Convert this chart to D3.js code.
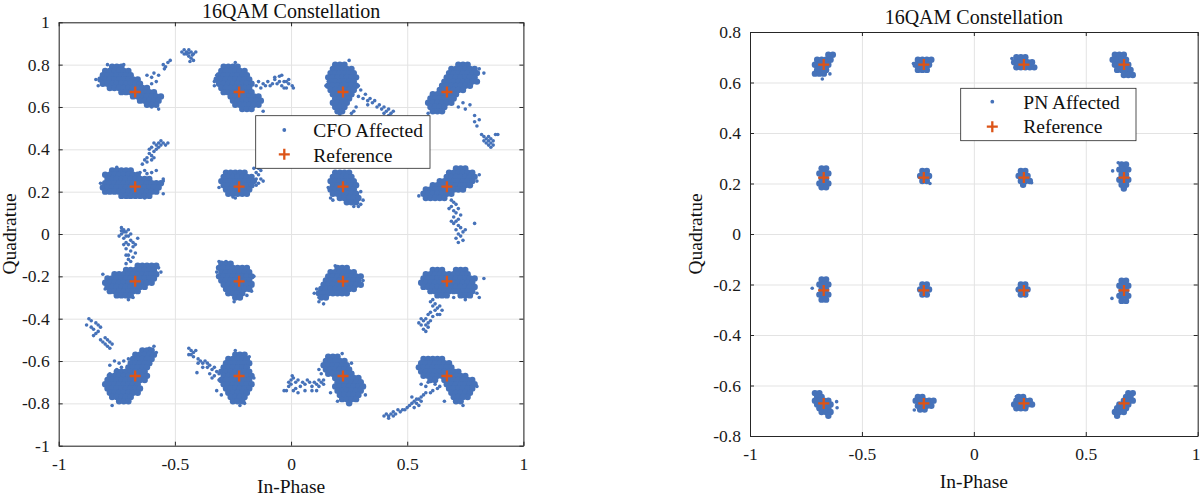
<!DOCTYPE html>
<html><head><meta charset="utf-8">
<script src="https://cdn.jsdelivr.net/npm/d3@7/dist/d3.min.js"></script>
<style>body{margin:0;background:#fff}svg{display:block}svg text{font-family:"Liberation Serif","Times New Roman",serif}</style>
</head><body><svg id="c" width="1200" height="495"></svg>
<script>
// ---------------- data ----------------
const refLevels=[-0.6708,-0.2236,0.2236,0.6708];
const xTicks=[-1,-0.5,0,0.5,1];
const xTickLabels=['-1','-0.5','0','0.5','1'];
const yTicksL=[-1,-0.8,-0.6,-0.4,-0.2,0,0.2,0.4,0.6,0.8,1];
const yTickLabelsL=['-1','-0.8','-0.6','-0.4','-0.2','0','0.2','0.4','0.6','0.8','1'];
const yTicksR=[-0.8,-0.6,-0.4,-0.2,0,0.2,0.4,0.6,0.8];
const yTickLabelsR=['-0.8','-0.6','-0.4','-0.2','0','0.2','0.4','0.6','0.8'];
const titles=['16QAM Constellation','16QAM Constellation'];
const xLabel='In-Phase', yLabel='Quadratue';
const legendL=['CFO Affected','Reference'];
const legendR=['PN Affected','Reference'];

// CFO affected: dense parts, each row = [Q, I, I, ...]
const cfoRows=[
[.79,-.77,-.75,-.73],[.77,-.80,-.78,-.76,-.74,-.72,-.70],[.75,-.81,-.79,-.77,-.75,-.73,-.71,-.69],
[.73,-.82,-.80,-.78,-.76,-.74,-.72,-.70,-.68,-.66],[.71,-.81,-.79,-.77,-.75,-.73,-.71,-.69,-.67,-.65],
[.69,-.78,-.76,-.74,-.72,-.70,-.68,-.66,-.64,-.62],[.67,-.73,-.71,-.69,-.67,-.65,-.63,-.61,-.59],
[.65,-.68,-.66,-.64,-.62,-.60,-.58,-.56],[.63,-.65,-.63,-.61,-.59,-.57],[.61,-.62,-.60,-.58],
[.79,-.29,-.27,-.25,-.23],[.77,-.30,-.28,-.26,-.24,-.22,-.20],[.75,-.31,-.29,-.27,-.25,-.23,-.21,-.19],
[.73,-.32,-.30,-.28,-.26,-.24,-.22,-.20,-.18],[.71,-.31,-.29,-.27,-.25,-.23,-.21,-.19,-.17],
[.69,-.30,-.28,-.26,-.24,-.22,-.20,-.18],[.67,-.29,-.27,-.25,-.23,-.21,-.19,-.17],
[.65,-.26,-.24,-.22,-.20,-.18,-.16,-.14],[.63,-.25,-.23,-.21,-.19,-.17,-.15,-.13],
[.61,-.24,-.22,-.20,-.18,-.16,-.14],[.59,-.21,-.19,-.17],
[.80,.19,.21,.23],[.78,.18,.20,.22,.24,.26],[.76,.17,.19,.21,.23,.25,.27],[.74,.16,.18,.20,.22,.24,.26,.28],
[.72,.17,.19,.21,.23,.25,.27],[.70,.16,.18,.20,.22,.24,.26,.28],[.68,.17,.19,.21,.23,.25,.27],
[.66,.18,.20,.22,.24,.26],[.64,.19,.21,.23,.25],[.62,.18,.20,.22,.24],[.60,.19,.21,.23],[.58,.20,.22],
[.80,.72,.74,.76],[.78,.69,.71,.73,.75,.77,.79],[.76,.68,.70,.72,.74,.76,.78,.80],
[.74,.67,.69,.71,.73,.75,.77,.79],[.72,.66,.68,.70,.72,.74,.76,.78,.80],[.70,.65,.67,.69,.71,.73,.75,.77],
[.68,.64,.66,.68,.70,.72,.74],[.66,.61,.63,.65,.67,.69,.71],[.64,.60,.62,.64,.66,.68,.70],
[.62,.59,.61,.63,.65,.67,.69],[.60,.60,.62,.64,.66],[.58,.61,.63,.65],
[.30,-.77,-.75,-.73,-.71,-.69],[.28,-.80,-.78,-.76,-.74,-.72,-.70,-.68,-.66],
[.26,-.79,-.77,-.75,-.73,-.71,-.69,-.67,-.65,-.63,-.61],
[.24,-.80,-.78,-.76,-.74,-.72,-.70,-.68,-.66,-.64,-.62,-.60,-.58,-.56],
[.22,-.81,-.79,-.77,-.75,-.73,-.71,-.69,-.67,-.65,-.63,-.61,-.59,-.57],
[.20,-.80,-.78,-.76,-.74,-.72,-.70,-.68,-.66,-.64,-.62,-.60,-.58],[.18,-.73,-.71,-.69,-.67,-.65,-.63,-.61],
[.29,-.28,-.26,-.24,-.22,-.20],[.27,-.29,-.27,-.25,-.23,-.21,-.19,-.17],
[.25,-.30,-.28,-.26,-.24,-.22,-.20,-.18,-.16],[.23,-.29,-.27,-.25,-.23,-.21,-.19,-.17],
[.21,-.28,-.26,-.24,-.22,-.20,-.18],[.19,-.27,-.25,-.23,-.21,-.19],
[.29,.19,.21,.23,.25],[.27,.18,.20,.22,.24,.26],[.25,.17,.19,.21,.23,.25,.27],[.23,.18,.20,.22,.24,.26,.28],
[.21,.17,.19,.21,.23,.25,.27],[.19,.18,.20,.22,.24,.26,.28],[.17,.21,.23,.25,.27,.29],[.15,.24,.26,.28],
[.31,.71,.73,.75],[.29,.68,.70,.72,.74,.76,.78],[.27,.67,.69,.71,.73,.75,.77,.79],
[.25,.64,.66,.68,.70,.72,.74,.76,.78],[.23,.61,.63,.65,.67,.69,.71,.73,.75,.77],
[.21,.58,.60,.62,.64,.66,.68,.70,.72,.74],[.19,.57,.59,.61,.63,.65,.67,.69],[.17,.58,.60,.62,.64,.66],
[-.15,-.66,-.64,-.62,-.60,-.58],[-.17,-.71,-.69,-.67,-.65,-.63,-.61,-.59],
[-.19,-.76,-.74,-.72,-.70,-.68,-.66,-.64,-.62,-.60,-.58],
[-.21,-.79,-.77,-.75,-.73,-.71,-.69,-.67,-.65,-.63,-.61,-.59],
[-.23,-.80,-.78,-.76,-.74,-.72,-.70,-.68,-.66,-.64,-.62,-.60],
[-.25,-.79,-.77,-.75,-.73,-.71,-.69,-.67,-.65,-.63],[-.27,-.78,-.76,-.74,-.72,-.70,-.68,-.66],
[-.29,-.75,-.73,-.71,-.69],
[-.14,-.30,-.28,-.26],[-.16,-.31,-.29,-.27,-.25,-.23,-.21,-.19],[-.18,-.30,-.28,-.26,-.24,-.22,-.20,-.18],
[-.20,-.31,-.29,-.27,-.25,-.23,-.21,-.19,-.17],[-.22,-.30,-.28,-.26,-.24,-.22,-.20,-.18],
[-.24,-.29,-.27,-.25,-.23,-.21,-.19,-.17],[-.26,-.28,-.26,-.24,-.22,-.20,-.18],[-.28,-.27,-.25,-.23,-.21],
[-.30,-.24,-.22],
[-.16,.20,.22,.24],[-.18,.17,.19,.21,.23,.25,.27],[-.20,.16,.18,.20,.22,.24,.26,.28,.30],
[-.22,.15,.17,.19,.21,.23,.25,.27,.29],[-.24,.14,.16,.18,.20,.22,.24,.26,.28,.30],
[-.26,.13,.15,.17,.19,.21,.23,.25,.27],[-.28,.12,.14,.16,.18,.20,.22,.24],[-.30,.13,.15],
[-.17,.61,.63,.65,.71,.73,.75],[-.19,.58,.60,.62,.64,.66,.68,.70,.72,.74,.76],
[-.21,.57,.59,.61,.63,.65,.67,.69,.71,.73,.75,.77,.79],[-.23,.56,.58,.60,.62,.64,.66,.68,.70,.72,.74,.76,.78],
[-.25,.57,.59,.61,.63,.65,.67,.69,.71,.73,.75,.77,.79],[-.27,.60,.62,.64,.66,.68,.70,.72,.74,.76,.78],
[-.29,.63,.65,.67,.73,.75,.77],
[-.55,-.64,-.62,-.60],[-.57,-.67,-.65,-.63,-.61,-.59],[-.59,-.68,-.66,-.64,-.62,-.60],
[-.61,-.69,-.67,-.65,-.63,-.61],[-.63,-.70,-.68,-.66,-.64,-.62],[-.65,-.75,-.73,-.71,-.69,-.67,-.65,-.63],
[-.67,-.78,-.76,-.74,-.72,-.70,-.68,-.66,-.64,-.62],[-.69,-.79,-.77,-.75,-.73,-.71,-.69,-.67,-.65,-.63],
[-.71,-.80,-.78,-.76,-.74,-.72,-.70,-.68,-.66],[-.73,-.79,-.77,-.75,-.73,-.71,-.69,-.67,-.65],
[-.75,-.78,-.76,-.74,-.72,-.70,-.68,-.66],[-.77,-.77,-.75,-.73,-.71,-.69],[-.79,-.74,-.72,-.70],
[-.57,-.24,-.22,-.20],[-.59,-.27,-.25,-.23,-.21,-.19],[-.61,-.28,-.26,-.24,-.22,-.20,-.18],
[-.63,-.29,-.27,-.25,-.23,-.21,-.19],[-.65,-.30,-.28,-.26,-.24,-.22,-.20,-.18],
[-.67,-.29,-.27,-.25,-.23,-.21,-.19,-.17],[-.69,-.30,-.28,-.26,-.24,-.22,-.20,-.18],
[-.71,-.29,-.27,-.25,-.23,-.21,-.19,-.17],[-.73,-.28,-.26,-.24,-.22,-.20,-.18],
[-.75,-.27,-.25,-.23,-.21,-.19],[-.77,-.26,-.24,-.22,-.20],[-.79,-.25,-.23,-.21],
[-.58,.16,.18,.20],[-.60,.15,.17,.19,.21,.23],[-.62,.14,.16,.18,.20,.22,.24],[-.64,.15,.17,.19,.21,.23,.25],
[-.66,.16,.18,.20,.22,.24,.26],[-.68,.19,.21,.23,.25,.27,.29],[-.70,.20,.22,.24,.26,.28,.30],
[-.72,.19,.21,.23,.25,.27,.29,.31],[-.74,.20,.22,.24,.26,.28,.30],[-.76,.21,.23,.25,.27,.29],
[-.78,.22,.24,.26,.28],[-.80,.25],
[-.59,.57,.59,.61,.63,.65],[-.61,.56,.58,.60,.62,.64,.66,.68],[-.63,.55,.57,.59,.61,.63,.65,.67,.69],
[-.65,.56,.58,.60,.62,.64,.66,.68,.70,.72],[-.67,.57,.59,.61,.63,.65,.67,.69,.71,.73,.75],
[-.69,.60,.62,.66,.68,.70,.72,.74,.76,.78],[-.71,.67,.69,.71,.73,.75,.77,.79],
[-.73,.68,.70,.72,.74,.76,.78],[-.75,.69,.71,.73,.75,.77],[-.77,.70,.72,.74,.76],[-.79,.71,.73]
];
// CFO affected: scattered points [I, Q]
const cfoSparse=[
[-.83,.70],[-.72,.80],[-.84,.73],[-.79,.80],[-.62,.75],[-.60,.74],[-.59,.76],[-.58,.72],[-.60,.71],[-.57,.75],
[-.55,.80],[-.54,.79],[-.53,.81],[-.52,.82],[-.545,.78],[-.57,.59],[-.60,.60],
[-.47,.86],[-.46,.87],[-.45,.86],[-.44,.87],[-.43,.86],[-.42,.85],[-.45,.85],[-.44,.84],[-.43,.83],[-.42,.82],
[-.46,.85],[-.41,.86],[-.435,.815],[-.44,.855],[-.425,.845],
[-.33,.72],[-.32,.75],[-.33,.70],[-.24,.81],[-.15,.70],[-.14,.72],[-.13,.69],[-.12,.71],[-.11,.70],[-.10,.72],
[-.09,.70],[-.08,.71],[-.07,.73],[-.06,.71],[-.05,.72],[-.04,.70],[-.03,.72],[-.02,.69],[-.01,.71],[.005,.70],
[.01,.69],[-.07,.74],[-.05,.745],[-.04,.75],[-.02,.72],[-.01,.73],[-.03,.69],[-.12,.58],
[.16,.72],[.15,.70],[.29,.70],[.30,.68],[.29,.65],[.31,.64],[.32,.66],[.33,.63],[.34,.64],[.35,.62],[.36,.63],
[.33,.61],[.37,.60],[.38,.61],[.39,.59],[.40,.60],[.41,.58],[.42,.59],[.43,.57],[.42,.56],[.44,.58],[.40,.57],
[.27,.58],[.26,.57],[.28,.60],[.21,.565],[.25,.82],
[.72,.60],[.74,.62],[.75,.59],[.77,.61],[.79,.56],[.79,.53],[.81,.54],[.80,.51],[.83,.76],[.82,.47],[.83,.46],
[.84,.45],[.85,.44],[.86,.45],[.84,.43],[.85,.42],[.86,.43],[.87,.44],[.88,.47],[.83,.44],[.87,.42],[.85,.46],
[.86,.41],[.89,.47],[.59,.57],[.81,.78],
[-.55,.19],[-.55,.25],[-.82,.24],[-.70,.175],[-.63,.17],[-.75,.315],
[-.64,.33],[-.63,.30],[-.62,.36],[-.63,.35],[-.61,.38],[-.60,.37],[-.61,.40],[-.60,.41],[-.59,.39],[-.58,.42],
[-.57,.43],[-.58,.40],[-.56,.42],[-.55,.43],[-.54,.42],[-.57,.41],[-.62,.34],[-.60,.35],[-.59,.43],[-.56,.44],
[-.65,.29],[-.62,.285],[-.60,.29],[-.58,.30],[-.55,.26],[-.59,.36],[-.53,.43],
[-.24,.17],[-.25,.175],[-.15,.29],[-.14,.28],[-.13,.30],[-.14,.31],[-.12,.25],[-.13,.26],[-.16,.31],[-.31,.22],
[-.15,.23],[-.15,.26],[-.14,.24],
[.17,.17],[.18,.16],[.30,.14],[.29,.13],[.27,.13],[.16,.22],[.30,.20],[.31,.16],
[.55,.18],[.81,.28],[.80,.25],[.69,.16],[.70,.15],[.71,.14],[.69,.13],[.70,.11],[.72,.12],[.71,.10],[.70,.08],
[.71,.06],[.72,.07],[.70,.05],[.72,.04],[.71,.02],[.73,.03],[.72,0],[.74,.01],[.73,-.01],[.71,-.02],[.74,-.03],
[.72,-.04],[.75,.02],[.68,.12],[.79,.05],[.69,.06],[.73,.09],
[-.81,-.19],[-.80,-.26],[-.68,-.30],[-.70,-.31],[-.57,-.16],[-.56,-.18],[-.71,-.14],[-.70,-.12],[-.69,-.13],
[-.68,-.11],[-.70,-.10],[-.69,-.08],[-.71,-.07],[-.70,-.05],[-.68,-.06],[-.71,-.04],[-.69,-.03],[-.72,-.02],
[-.70,-.01],[-.73,0],[-.71,.01],[-.72,.02],[-.73,.03],[-.70,.02],[-.74,-.01],[-.72,-.05],[-.67,-.09],[-.69,0],
[-.71,-.10],[-.66,-.02],[-.72,.01],[-.71,-.01],[-.73,.015],[-.68,-.04],[-.67,-.05],
[-.245,-.32],[-.16,-.20],[-.32,-.18],[-.19,-.29],[-.31,-.13],[-.28,-.13],[-.17,-.27],[-.165,-.23],
[.12,-.32],[.12,-.30],[.10,-.28],[.14,-.33],[.19,-.15],[.11,-.26],[.31,-.22],
[.61,-.31],[.80,-.28],[.81,-.30],[.70,-.30],[.75,-.31],[.60,-.32],[.61,-.34],[.62,-.33],[.63,-.35],[.64,-.34],
[.65,-.36],[.62,-.36],[.60,-.37],[.63,-.38],[.64,-.38],[.61,-.39],[.58,-.40],[.57,-.41],[.55,-.42],[.56,-.43],
[.57,-.45],[.59,-.44],[.58,-.46],[.56,-.40],[.59,-.42],[.58,-.43],[.60,-.41],[.59,-.38],[.83,-.21],
[-.78,-.62],[-.76,-.60],[-.74,-.61],[-.72,-.60],[-.73,-.63],[-.70,-.59],[-.75,-.64],[-.78,-.66],[-.77,-.81],
[-.60,-.57],[-.59,-.53],[-.61,-.54],[-.58,-.56],[-.87,-.40],[-.86,-.41],[-.88,-.43],[-.86,-.44],[-.84,-.42],
[-.83,-.43],[-.85,-.45],[-.84,-.47],[-.83,-.46],[-.82,-.44],[-.80,-.49],[-.79,-.50],[-.81,-.51],[-.80,-.52],
[-.78,-.51],[-.79,-.53],[-.77,-.52],[-.78,-.54],[-.82,-.50],[-.85,-.48],
[-.22,-.81],[-.20,-.80],[-.24,-.55],[-.18,-.58],[-.31,-.69],[-.32,-.74],[-.30,-.76],[-.16,-.68],[-.44,-.54],
[-.43,-.55],[-.42,-.56],[-.43,-.57],[-.41,-.55],[-.42,-.58],[-.40,-.59],[-.39,-.60],[-.38,-.61],[-.37,-.60],
[-.36,-.61],[-.35,-.62],[-.36,-.63],[-.34,-.64],[-.33,-.63],[-.32,-.65],[-.35,-.66],[-.33,-.67],[-.31,-.66],
[-.34,-.68],[-.38,-.63],[-.40,-.61],[-.44,-.57],[-.405,-.655],
[.12,-.64],[.13,-.66],[.14,-.69],[.17,-.75],[.20,-.79],[.32,-.76],[.22,-.565],[.26,-.61],[0,-.69],[.01,-.68],
[.02,-.70],[0,-.71],[.03,-.69],[.04,-.72],[.02,-.73],[.05,-.70],[.06,-.71],[.07,-.69],[.08,-.70],[.09,-.72],
[.10,-.70],[.11,-.71],[.12,-.69],[.13,-.70],[.09,-.74],[.11,-.74],[.06,-.74],[-.01,-.72],[-.02,-.74],
[-.03,-.74],[.01,-.74],[.03,-.75],[.12,-.72],[.14,-.71],[-.01,-.70],[.005,-.67],
[.56,-.71],[.58,-.72],[.59,-.70],[.62,-.71],[.63,-.73],[.61,-.74],[.64,-.72],[.60,-.75],[.66,-.79],[.80,-.72],
[.74,-.81],[.58,-.75],[.57,-.76],[.56,-.77],[.55,-.78],[.56,-.79],[.54,-.78],[.53,-.79],[.54,-.80],[.52,-.80],
[.51,-.81],[.53,-.82],[.50,-.82],[.49,-.83],[.48,-.83],[.47,-.84],[.46,-.83],[.45,-.85],[.44,-.84],[.43,-.85],
[.42,-.86],[.41,-.85],[.40,-.86],[.42,-.87],[.44,-.86],[.52,-.77],[.55,-.81]
];
// PN affected: dense parts, each row = [Q, I, I, ...]
const pnRows=[
[.71,-.65,-.63],[.69,-.70,-.68,-.66,-.64],[.67,-.71,-.69,-.67,-.65],[.65,-.70,-.68,-.66],[.635,-.71,-.69,-.67],
[.69,-.25,-.23,-.21,-.19],[.67,-.26,-.24,-.22,-.20],[.65,-.25,-.23,-.21],
[.70,.19,.21,.23],[.68,.18,.20,.22,.24,.26],[.66,.19,.21,.23,.25,.27],
[.71,.63,.65,.67],[.69,.62,.64,.66,.68],[.67,.63,.65,.67,.69],[.65,.64,.66,.68,.70],[.63,.67,.69,.71],
[.26,-.68,-.66],[.24,-.69,-.67,-.65],[.22,-.68,-.66],[.20,-.69,-.67,-.65],[.185,-.68,-.66],
[.25,-.23,-.21],[.23,-.24,-.22,-.20],[.21,-.23,-.21],
[.25,.21,.23],[.23,.20,.22,.24],[.21,.21,.23,.25],[.195,.22],
[.275,.66,.68],[.255,.65,.67,.69],[.235,.66,.68],[.215,.65,.67,.69],[.195,.66,.68],[.18,.67],
[-.18,-.68,-.66],[-.20,-.69,-.67,-.65],[-.22,-.68,-.66],[-.24,-.69,-.67,-.65],[-.26,-.68,-.66],
[-.20,-.23,-.21],[-.22,-.24,-.22,-.20],[-.24,-.23,-.21],
[-.20,.21,.23],[-.22,.20,.22,.24],[-.24,.21,.23],
[-.185,.66,.68],[-.205,.65,.67,.69],[-.225,.66,.68],[-.245,.65,.67,.69],[-.265,.66,.68],
[-.63,-.71,-.69],[-.645,-.70,-.68],[-.66,-.71,-.69,-.67,-.65],[-.675,-.70,-.68,-.66,-.64],
[-.69,-.69,-.67,-.65],[-.705,-.68,-.66,-.64],[-.72,-.65],
[-.645,-.25,-.23],[-.66,-.26,-.24,-.22,-.20,-.18],[-.68,-.25,-.23,-.21,-.19],[-.695,-.24,-.22],
[-.645,.20,.22],[-.66,.19,.21,.23,.25],[-.675,.18,.20,.22,.24,.26],[-.69,.19,.21,.23],
[-.63,.69,.71],[-.645,.68,.70],[-.66,.67,.69,.71],[-.675,.65,.67,.69],[-.69,.64,.66,.68],[-.705,.63,.65,.67],[-.72,.64]
];
const pnSparse=[
[-.677,.614],[-.643,.634],[-.27,.675],[.17,.695],[-.196,.20],[.258,.203],[.62,.25],[.645,.282],
[-.722,-.215],[.617,-.255],[-.613,-.664],[-.611,-.688],[-.266,-.697],[.19,-.644]
];

// ---------------- drawing ----------------
const BLUE='#4672b9', ORANGE='#dc5418', AX='#262626', GRID='#e3e3e3';
const FONT='"Liberation Serif","Times New Roman",serif';
const PLUS='M-5.5,0H5.5M0,-5.5V5.5';
const svg=d3.select('#c');

function panel(cfg){
  const g=svg.append('g');
  const x=d3.scaleLinear().domain([-1,1]).range([cfg.l,cfg.r]);
  const y=d3.scaleLinear().domain(cfg.yd).range([cfg.b,cfg.t]);
  const h=cfg.b-cfg.t, w=cfg.r-cfg.l;
  // grid
  g.append('g').attr('transform',`translate(0,${cfg.b})`)
    .call(d3.axisBottom(x).tickValues(xTicks).tickSize(-h).tickFormat(''))
    .call(s=>{s.select('.domain').remove();s.selectAll('line').attr('stroke',GRID).attr('stroke-width',1);});
  g.append('g').attr('transform',`translate(${cfg.l},0)`)
    .call(d3.axisLeft(y).tickValues(cfg.yt).tickSize(-w).tickFormat(''))
    .call(s=>{s.select('.domain').remove();s.selectAll('line').attr('stroke',GRID).attr('stroke-width',1);});
  // points
  const core=cfg.rows.flatMap(r=>r.slice(1).map(v=>[v,r[0]]));
  g.append('g').selectAll('circle').data(core).join('circle')
    .attr('cx',d=>x(d[0])).attr('cy',d=>y(d[1])).attr('r',cfg.rc).attr('fill',BLUE);
  g.append('g').selectAll('circle').data(cfg.sparse).join('circle')
    .attr('cx',d=>x(d[0])).attr('cy',d=>y(d[1])).attr('r',1.8).attr('fill',BLUE);
  // reference
  const refs=d3.cross(refLevels,refLevels);
  g.append('g').selectAll('path').data(refs).join('path')
    .attr('d',PLUS).attr('transform',d=>`translate(${x(d[0])},${y(d[1])})`)
    .attr('stroke',ORANGE).attr('stroke-width',2.3).attr('fill','none');
  // axes
  const style=s=>{s.attr('color',AX).attr('font-family',FONT).attr('font-size',17.5);
    s.selectAll('text').attr('font-family',FONT).attr('fill','#1a1a1a');
    s.select('.domain').attr('stroke-width',1);};
  const bx=g.append('g').attr('transform',`translate(0,${cfg.b})`)
    .call(d3.axisBottom(x).tickValues(xTicks).tickFormat((d,i)=>xTickLabels[i]).tickSizeInner(-4).tickSizeOuter(0).tickPadding(12)).call(style);
  if(cfg.lastDx) bx.selectAll('text').filter((d,i)=>i===xTicks.length-1).attr('dx',cfg.lastDx);
  g.append('g').attr('transform',`translate(0,${cfg.t})`)
    .call(d3.axisTop(x).tickValues(xTicks).tickFormat('').tickSizeInner(-4).tickSizeOuter(0)).call(style);
  g.append('g').attr('transform',`translate(${cfg.l},0)`)
    .call(d3.axisLeft(y).tickValues(cfg.yt).tickFormat((d,i)=>cfg.ytl[i]).tickSizeInner(-4).tickSizeOuter(0).tickPadding(9)).call(style);
  g.append('g').attr('transform',`translate(${cfg.r},0)`)
    .call(d3.axisRight(y).tickValues(cfg.yt).tickFormat('').tickSizeInner(-4).tickSizeOuter(0)).call(style);
  // titles & labels
  const cx=(cfg.l+cfg.r)/2, cy=(cfg.t+cfg.b)/2;
  g.append('text').attr('x',cx).attr('y',cfg.titleY).attr('text-anchor','middle')
    .attr('font-family',FONT).attr('font-size',20).attr('fill','#111').text(cfg.title);
  g.append('text').attr('x',cx).attr('y',cfg.xlabY).attr('text-anchor','middle')
    .attr('font-family',FONT).attr('font-size',19.5).attr('fill','#111').text(xLabel);
  g.append('text').attr('transform',`translate(${cfg.ylabX},${cy}) rotate(-90)`).attr('text-anchor','middle')
    .attr('font-family',FONT).attr('font-size',19.5).attr('fill','#111').text(yLabel);
  // legend
  const L=cfg.leg;
  const lg=g.append('g');
  lg.append('rect').attr('x',L.x).attr('y',L.y).attr('width',L.w).attr('height',L.h)
    .attr('fill','#fff').attr('stroke',AX).attr('stroke-width',0.8);
  lg.append('circle').attr('cx',L.mx).attr('cy',L.y1).attr('r',1.9).attr('fill',BLUE);
  lg.append('path').attr('d',PLUS).attr('transform',`translate(${L.mx},${L.y2})`)
    .attr('stroke',ORANGE).attr('stroke-width',2.3);
  lg.selectAll('text').data(L.labels).join('text')
    .attr('x',L.tx).attr('y',(d,i)=>i===0?L.b1:L.b2)
    .attr('font-family',FONT).attr('font-size',19.5).attr('fill','#111').text(d=>d);
}

panel({l:58.7,r:523.4,t:22.3,b:445.7,yd:[-1,1],yt:yTicksL,ytl:yTickLabelsL,rows:cfoRows,sparse:cfoSparse,rc:3.2,
  title:titles[0],titleY:18,xlabY:492.5,ylabX:16,
  leg:{x:255.7,y:115.7,w:174.3,h:52.6,mx:284.3,y1:130,y2:154.3,tx:313.3,b1:137.3,b2:161.7,labels:legendL}});
panel({l:750,r:1197.7,t:32,b:436,yd:[-0.8,0.8],yt:yTicksR,ytl:yTickLabelsR,rows:pnRows,sparse:pnSparse,rc:3.2,
  title:titles[1],titleY:24,xlabY:488,ylabX:702,lastDx:-2,
  leg:{x:960.7,y:88.3,w:175.3,h:52.4,mx:992.3,y1:101.7,y2:126.7,tx:1023.3,b1:109.3,b2:133.3,labels:legendR}});
</script>
</body></html>
